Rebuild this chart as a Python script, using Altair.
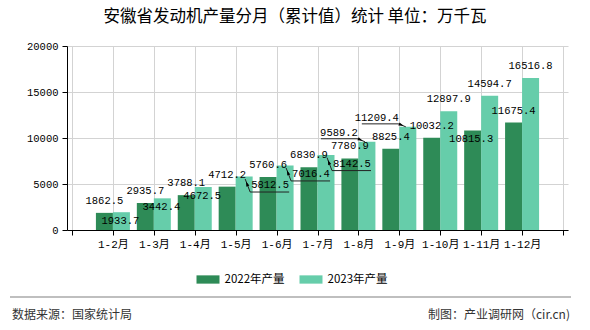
import json
import altair as alt
import pandas as pd

# ---------------- data ----------------
categories = ["1-2月", "1-3月", "1-4月", "1-5月", "1-6月", "1-7月",
              "1-8月", "1-9月", "1-10月", "1-11月", "1-12月"]
output_2022 = [1862.5, 2935.7, 3788.1, 4712.2, 5760.6, 6830.9,
               7780.9, 8825.4, 10032.2, 10815.3, 11675.4]
output_2023 = [1933.7, 3442.4, 4672.5, 5812.5, 7016.4, 8142.5,
               9589.2, 11209.4, 12897.9, 14594.7, 16516.8]
series_names = ["2022年产量", "2023年产量"]
y_ticks = [0, 5000, 10000, 15000, 20000]

# label placement style (as in the reference's label layout)
label_place_2022 = ["above"] * 9 + ["inside", "above"]
label_place_2023 = ["inside"] * 3 + ["right"] * 3 + ["left"] * 2 + ["above"] * 3

title_text = "安徽省发动机产量分月（累计值）统计 单位：万千瓦"
source_text = "数据来源：国家统计局"
credit_text = "制图：产业调研网（cir.cn)"

colors = ["#2E8B57", "#66CDAA"]

rows = []
for k, cat in enumerate(categories):
    rows.append(dict(cat=cat, i=k + 1, series=series_names[0],
                     value=output_2022[k], place=label_place_2022[k]))
    rows.append(dict(cat=cat, i=k + 1, series=series_names[1],
                     value=output_2023[k], place=label_place_2023[k]))
df = pd.DataFrame(rows)
n = len(categories)

MONO = "Liberation Mono, Noto Sans CJK SC"
CJK = "Noto Sans CJK SC"
GRID = "#d3d3d3"

label_arr = json.dumps(categories, ensure_ascii=False)
x_enc = alt.X(
    "i:Q",
    scale=alt.Scale(domain=[0, n + 1], nice=False, zero=False),
    axis=alt.Axis(
        values=list(range(n + 2)),
        labelExpr=f"datum.value >= 1 && datum.value <= {n} ? {label_arr}[datum.value - 1] : ''",
        title=None, grid=True, gridColor=GRID, gridWidth=1,
        domainColor="#000000", tickColor="#000000", tickSize=5,
        labelFont=MONO, labelFontSize=11, labelColor="#000000",
        labelPadding=3, labelAngle=0,
    ),
)
y_enc = alt.Y(
    "value:Q",
    stack=None,
    scale=alt.Scale(domain=[0, 20000], nice=False),
    axis=alt.Axis(
        values=y_ticks, format="d", title=None, grid=True, gridColor=GRID, gridWidth=1,
        domainColor="#000000", tickColor="#000000", tickSize=5,
        labelFont=MONO, labelFontSize=10.5, labelColor="#000000",
        labelPadding=4,
    ),
)
color_enc = alt.Color(
    "series:N",
    scale=alt.Scale(domain=series_names, range=colors),
    legend=alt.Legend(
        orient="none", legendX=129.5, legendY=222, direction="horizontal",
        title=None, symbolType="M-1,-0.36H1V0.36H-1Z", symbolSize=529,
        symbolStrokeWidth=0, symbolOpacity=1,
        labelFont=CJK, labelFontSize=11.5, labelColor="#000000",
        labelOffset=5, columnPadding=14,
    ),
)

base = alt.Chart(df)
s22 = alt.datum.series == series_names[0]
s23 = alt.datum.series == series_names[1]

bar22 = base.transform_filter(s22).mark_bar(
    width=17, xOffset=-8.5, orient="vertical").encode(x=x_enc, y=y_enc, color=color_enc)
bar23 = base.transform_filter(s23).mark_bar(
    width=17, xOffset=8.5, orient="vertical").encode(x=x_enc, y=y_enc, color=color_enc)


def labels(cond, place, **kw):
    return base.transform_filter(cond).transform_filter(
        alt.datum.place == place).mark_text(
        font=MONO, fontSize=10.5, color="#000000", baseline="middle", **kw
    ).encode(x=x_enc, y=y_enc, text=alt.Text("value:Q", format=".1f"))


lab22_above = labels(s22, "above", dx=-8.5, dy=-12, align="center")
lab22_in = labels(s22, "inside", dx=-10, dy=9, align="center")
lab23_in = labels(s23, "inside", dx=7.5, dy=9, align="center")
lab23_right = labels(s23, "right", dx=15.5, dy=8.5, align="left")
lab23_left = labels(s23, "left", dx=-0.5, dy=-9, align="right")
lab23_above = labels(s23, "above", dx=8.5, dy=-12, align="center")


def leader(place, xo, yo, x2o, y2o):
    return base.transform_filter(s23).transform_filter(
        alt.datum.place == place).mark_rule(
        color="#222222", strokeWidth=1,
        xOffset=xo, yOffset=yo, x2Offset=x2o, y2Offset=y2o,
    ).encode(x=x_enc, x2=alt.X2("i"), y=y_enc, y2=alt.Y2("value"))


ARROW = "M0,-1L0.65,1L-0.65,1Z"


def arrow(place, xo, yo, ang):
    return base.transform_filter(s23).transform_filter(
        alt.datum.place == place).mark_point(
        shape=ARROW, size=25, angle=ang, filled=True, color="#000000",
        opacity=1, strokeWidth=0, xOffset=xo, yOffset=yo,
    ).encode(x=x_enc, y=y_enc)


lead_r1 = leader("right", 9.5, 2.5, 14.5, 15.5)
lead_r2 = leader("right", 14.5, 15.5, 53.5, 15.5)
arr_r = arrow("right", 11.3, 7.2, 339)
lead_l1 = leader("left", -37.5, -3, -0.5, -3)
lead_l2 = leader("left", -0.5, -3, 6.5, 0)
arr_l = arrow("left", 1.9, -2, 113)

title = alt.Chart(pd.DataFrame({"t": [title_text]})).mark_text(
    font=CJK, fontSize=16.5, color="#000000", align="center", baseline="middle"
).encode(text="t:N", x=alt.value(228), y=alt.value(-29.5))

sep = alt.Chart(pd.DataFrame({"a": [0]})).mark_rule(
    color="#808080", strokeWidth=1.2
).encode(x=alt.value(-57), x2=alt.value(504), y=alt.value(251))

src = alt.Chart(pd.DataFrame({"t": [source_text]})).mark_text(
    font=CJK, fontSize=12, color="#333333", align="left", baseline="middle"
).encode(text="t:N", x=alt.value(-55), y=alt.value(269))

credit = alt.Chart(pd.DataFrame({"t": [credit_text]})).mark_text(
    font=CJK, fontSize=12, color="#333333", align="right", baseline="middle"
).encode(text="t:N", x=alt.value(503), y=alt.value(269))

chart = alt.layer(
    bar22, bar23,
    lab22_above, lab22_in, lab23_in, lab23_right, lab23_left, lab23_above,
    lead_r1, lead_r2, arr_r, lead_l1, lead_l2, arr_l,
    title, sep, src, credit,
).properties(
    width=501, height=184,
    autosize=alt.AutoSizeParams(type="none"),
    padding={"left": 67, "top": 46, "right": 22, "bottom": 100},
    background="#ffffff",
).configure_view(stroke=None)

chart.save("out.html", embed_options={"renderer": "svg", "actions": False})
